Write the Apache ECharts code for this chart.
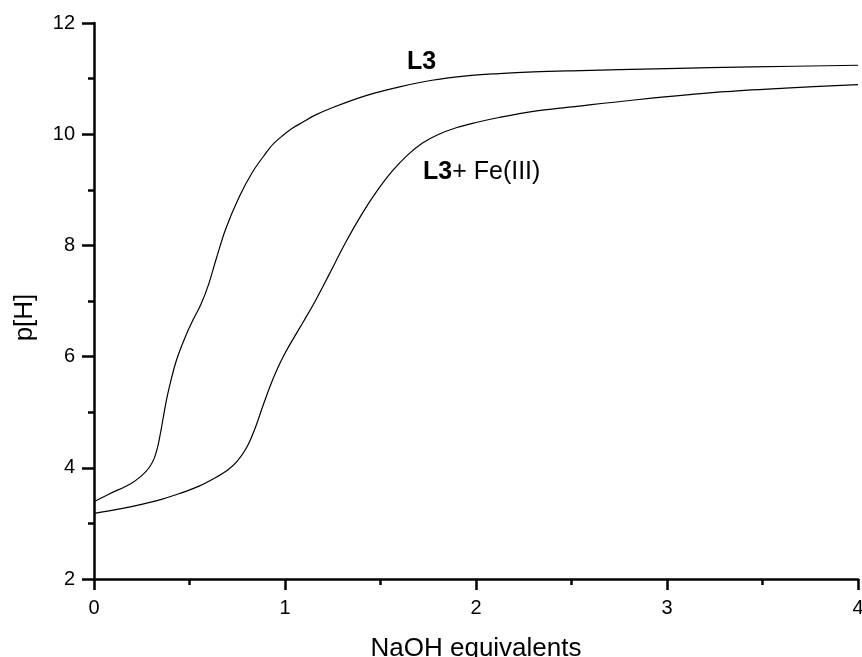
<!DOCTYPE html>
<html>
<head>
<meta charset="utf-8">
<script src="https://cdn.jsdelivr.net/npm/echarts@6/dist/echarts.min.js"></script>
<style>
html,body{margin:0;padding:0;background:#fff;overflow:hidden;}
#c{width:862px;height:657px;}
</style>
</head>
<body>
<div id="c"></div>
<script>
// Data
var l3X = [0, 0.08, 0.19, 0.25, 0.29, 0.315, 0.335, 0.35, 0.365, 0.38, 0.40, 0.42, 0.44, 0.48, 0.52, 0.56, 0.60, 0.64, 0.69, 0.76, 0.83, 0.90, 0.94, 0.99, 1.04, 1.09, 1.15, 1.25, 1.42, 1.60, 1.77, 1.95, 2.12, 2.30, 2.50, 3.00, 3.45, 4.00];
var l3Y = [3.39, 3.53, 3.71, 3.86, 4.01, 4.17, 4.40, 4.66, 4.95, 5.23, 5.53, 5.80, 6.02, 6.37, 6.67, 6.94, 7.30, 7.76, 8.30, 8.87, 9.32, 9.66, 9.83, 9.98, 10.11, 10.21, 10.33, 10.48, 10.69, 10.85, 10.97, 11.05, 11.09, 11.12, 11.14, 11.18, 11.21, 11.24];
var feX = [0, 0.15, 0.33, 0.45, 0.55, 0.64, 0.70, 0.75, 0.80, 0.84, 0.88, 0.92, 0.96, 1.00, 1.05, 1.10, 1.16, 1.23, 1.32, 1.40, 1.48, 1.56, 1.64, 1.72, 1.80, 1.90, 2.00, 2.12, 2.30, 2.50, 2.84, 3.28, 3.62, 4.00];
var feY = [3.18, 3.27, 3.41, 3.54, 3.67, 3.83, 3.96, 4.12, 4.37, 4.68, 5.07, 5.45, 5.78, 6.06, 6.36, 6.65, 7.01, 7.47, 8.07, 8.55, 8.97, 9.33, 9.62, 9.84, 9.99, 10.12, 10.21, 10.30, 10.41, 10.49, 10.62, 10.76, 10.83, 10.89];
var xTicks = [0, 1, 2, 3, 4];
var yTicks = [2, 4, 6, 8, 10, 12];
var xTitle = 'NaOH equivalents';
var yTitle = 'p[H]';
var seriesNames = ['L3', 'L3+ Fe(III)'];

function pairs(xs, ys) { return xs.map(function (x, i) { return [x, ys[i]]; }); }

var FONT = '"Liberation Sans", Arial, Helvetica, sans-serif';
var el = document.getElementById('c');
var chart = echarts.init(el, null, { renderer: 'canvas', width: 862, height: 657 });
chart.setOption({
  animation: false,
  backgroundColor: '#ffffff',
  grid: { left: 94, right: 4, top: 23, bottom: 78, containLabel: false, outerBoundsMode: 'none' },
  xAxis: {
    type: 'value',
    min: xTicks[0], max: xTicks[xTicks.length - 1], interval: 1,
    name: xTitle, nameLocation: 'middle', nameGap: 57,
    nameTextStyle: { fontFamily: FONT, fontSize: 26, color: '#000' },
    axisLine: { show: true, onZero: false, lineStyle: { color: '#000', width: 2.5 } },
    axisTick: { show: true, inside: false, length: 11, lineStyle: { color: '#000', width: 2.5 } },
    minorTick: { show: true, splitNumber: 2, length: 6, lineStyle: { color: '#000', width: 2.5 } },
    axisLabel: { fontFamily: FONT, fontSize: 20, color: '#000', margin: 19 },
    splitLine: { show: false }
  },
  yAxis: {
    type: 'value',
    min: yTicks[0], max: yTicks[yTicks.length - 1], interval: 2,
    axisLine: { show: true, onZero: false, lineStyle: { color: '#000', width: 2.5 } },
    axisTick: { show: true, inside: false, length: 12, lineStyle: { color: '#000', width: 2.5 } },
    minorTick: { show: true, splitNumber: 2, length: 6, lineStyle: { color: '#000', width: 2.5 } },
    axisLabel: { fontFamily: FONT, fontSize: 20, color: '#000', margin: 19 },
    splitLine: { show: false }
  },
  series: [
    { name: seriesNames[0], type: 'line', data: pairs(l3X, l3Y), smooth: 0.35, showSymbol: false,
      lineStyle: { color: '#000', width: 1.2 }, z: 3 },
    { name: seriesNames[1], type: 'line', data: pairs(feX, feY), smooth: 0.35, showSymbol: false,
      lineStyle: { color: '#000', width: 1.2 }, z: 3 }
  ],
  graphic: [
    { type: 'text', x: 24.5, y: 317.5, rotation: Math.PI / 2,
      style: { text: yTitle, font: '26px ' + FONT, fill: '#000', textAlign: 'center', textVerticalAlign: 'middle' } },
    { type: 'text', x: 407, y: 62.5,
      style: { text: 'L3', font: 'bold 25px ' + FONT, fill: '#000', textAlign: 'left', textVerticalAlign: 'middle' } },
    { type: 'text', x: 423, y: 172.5,
      style: { text: '{b|L3}{r|+ Fe(III)}', fill: '#000', textAlign: 'left', textVerticalAlign: 'middle',
        rich: { b: { fontFamily: FONT, fontWeight: 'bold', fontSize: 25, fill: '#000' },
                r: { fontFamily: FONT, fontSize: 25, fill: '#000' } } } }
  ]
});
</script>
</body>
</html>
